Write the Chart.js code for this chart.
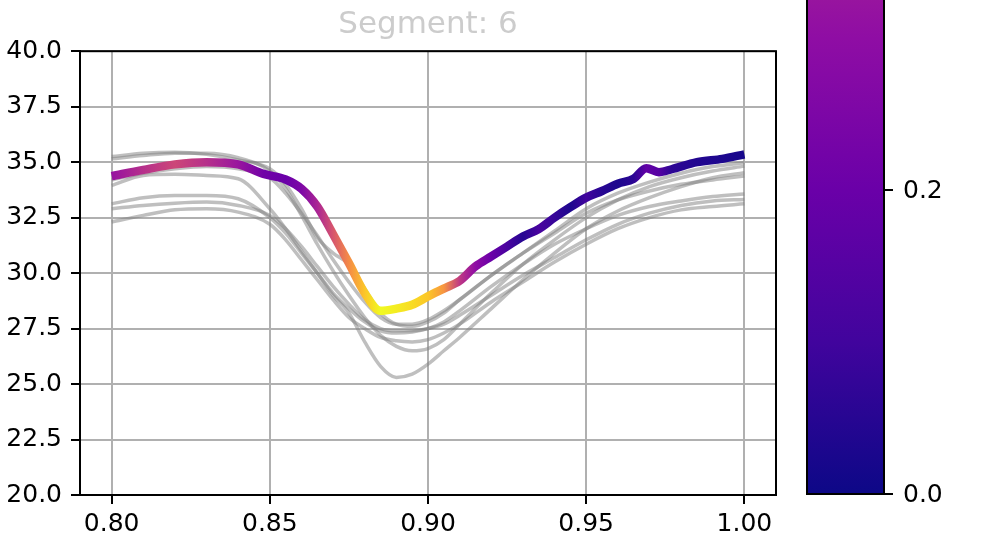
<!DOCTYPE html>
<html>
<head>
<meta charset="utf-8">
<script src="https://cdn.jsdelivr.net/npm/chart.js@4/dist/chart.umd.min.js"></script>
<style>
  html, body { margin: 0; padding: 0; background: #ffffff; }
  #wrap { width: 984px; height: 539px; }
</style>
</head>
<body>
<div id="wrap"><canvas id="c" width="984" height="539"></canvas></div>
<script>
// ---------------- data ----------------
const titleText = 'Segment: 6';

// shared x positions of the grey (other segment) curves
const greyX = [0.80,0.81,0.82,0.83,0.84,0.85,0.855,0.86,0.865,0.87,0.875,0.88,0.885,0.89,0.895,0.90,0.905,0.91,0.92,0.93,0.94,0.95,0.96,0.97,0.98,0.99,1.00];
const grey1 = [35.25,35.4,35.45,35.35,35.1,34.7,34.0,32.9,31.6,30.9,30.4,29.3,28.2,27.7,27.6,27.8,28.2,28.8,29.9,30.9,31.9,32.9,33.6,34.1,34.5,34.8,34.97];
const grey2 = [35.15,35.3,35.4,35.4,35.2,34.6,33.8,32.6,31.3,30.1,29.0,28.0,27.2,26.7,26.5,26.6,27.0,27.7,29.1,30.4,31.5,32.5,33.3,33.9,34.3,34.6,34.82];
const grey3 = [33.95,34.4,34.45,34.4,34.25,32.9,32.0,31.0,30.0,29.0,28.2,26.9,25.8,25.3,25.45,25.9,26.5,27.1,28.4,29.7,30.9,32.0,32.8,33.4,33.9,34.3,34.52];
const grey4 = [33.12,33.4,33.5,33.5,33.35,32.5,31.8,30.9,30.0,29.1,28.4,27.8,27.4,27.3,27.35,27.5,27.8,28.3,29.4,30.4,31.3,32.0,32.6,33.0,33.25,33.45,33.57];
const grey5 = [32.9,33.05,33.15,33.2,33.05,32.6,32.0,31.2,30.3,29.4,28.6,27.9,27.5,27.4,27.4,27.5,27.7,28.1,29.0,29.9,30.7,31.5,32.2,32.7,33.05,33.25,33.32];
const grey6 = [32.3,32.6,32.85,32.9,32.75,32.2,31.5,30.6,29.7,28.8,28.0,27.5,27.1,26.95,26.9,27.0,27.3,27.7,28.7,29.6,30.5,31.3,32.0,32.5,32.85,33.0,33.12];
const grey7 = [34.2,34.5,34.7,34.8,34.7,34.3,33.6,32.7,31.7,30.6,29.6,28.7,28.0,27.7,27.7,27.9,28.3,28.8,29.9,30.9,31.8,32.7,33.3,33.7,34.0,34.2,34.37];
const greySeries = [grey1, grey2, grey3, grey4, grey5, grey6, grey7];

// highlighted segment curve and its colour value (0..1 of the colormap)
const segX = [0.80,0.81,0.82,0.83,0.84,0.848,0.855,0.86,0.865,0.87,0.875,0.88,0.885,0.89,0.895,0.90,0.905,0.91,0.915,0.92,0.925,0.93,0.935,0.94,0.945,0.95,0.955,0.96,0.965,0.969,0.973,0.977,0.985,0.993,1.00];
const segY = [34.37,34.65,34.9,35.0,34.9,34.47,34.22,33.8,33.0,31.75,30.45,29.1,28.3,28.4,28.57,28.95,29.3,29.65,30.3,30.75,31.2,31.65,31.98,32.5,32.97,33.4,33.7,34.03,34.25,34.73,34.55,34.68,35.0,35.15,35.35];
const segC = [0.32,0.42,0.5,0.42,0.33,0.22,0.2,0.25,0.38,0.55,0.72,0.88,1.0,0.97,0.93,0.88,0.75,0.45,0.3,0.2,0.12,0.05,0.12,0.08,0.03,0.1,0.05,0.03,0.06,0.18,0.15,0.06,0.04,0.03,0.02];

const xTicks = [0.80, 0.85, 0.90, 0.95, 1.00];
const yTicks = [20.0, 22.5, 25.0, 27.5, 30.0, 32.5, 35.0, 37.5, 40.0];
const colorbarTicks = [0.0, 0.2];
const colorbarRange = [0.0, 1.0];

// plasma colormap key colours
const plasmaStops = ['#0d0887','#41049d','#6a00a8','#8f0da4','#b12a90','#cc4778','#e16462','#f2844b','#fca636','#fcce25','#f0f921'];

// ---------------- helpers ----------------
function hexToRgb(h) {
  return [parseInt(h.slice(1,3),16), parseInt(h.slice(3,5),16), parseInt(h.slice(5,7),16)];
}
const plasmaRgb = plasmaStops.map(hexToRgb);
function plasma(t) {
  t = Math.max(0, Math.min(1, t));
  const f = t * (plasmaRgb.length - 1);
  const i = Math.min(plasmaRgb.length - 2, Math.floor(f));
  const u = f - i;
  const a = plasmaRgb[i], b = plasmaRgb[i + 1];
  const c = a.map((v, k) => Math.round(v + (b[k] - v) * u));
  return 'rgb(' + c[0] + ',' + c[1] + ',' + c[2] + ')';
}

function segGradient(context) {
  const chart = context.chart;
  const area = chart.chartArea;
  const xs = chart.scales.x;
  if (!area || !xs) return plasma(0.5);
  const p0 = xs.getPixelForValue(segX[0]);
  const p1 = xs.getPixelForValue(segX[segX.length - 1]);
  const g = chart.ctx.createLinearGradient(p0, 0, p1, 0);
  segX.forEach((x, i) => {
    const off = (xs.getPixelForValue(x) - p0) / (p1 - p0);
    g.addColorStop(Math.max(0, Math.min(1, off)), plasma(segC[i]));
  });
  return g;
}

// ---------------- datasets ----------------
const datasets = [];
datasets.push({
  label: 'segment',
  data: segX.map((x, i) => ({ x: x, y: segY[i] })),
  borderColor: segGradient,
  borderWidth: 8.5,
  borderCapStyle: 'butt',
  borderJoinStyle: 'round',
  pointRadius: 0,
  cubicInterpolationMode: 'monotone',
  order: 0
});
greySeries.forEach((s, k) => {
  datasets.push({
    label: 'grey' + (k + 1),
    data: greyX.map((x, i) => ({ x: x, y: s[i] })),
    borderColor: 'rgba(128,128,128,0.5)',
    borderWidth: 3.5,
    borderCapStyle: 'butt',
    borderJoinStyle: 'round',
    pointRadius: 0,
    cubicInterpolationMode: 'monotone',
    order: 1
  });
});

// ---------------- plugins ----------------
const framePlugin = {
  id: 'frame',
  afterDraw(chart) {
    const { ctx, chartArea: a } = chart;
    ctx.save();
    ctx.strokeStyle = '#000';
    ctx.lineWidth = 2;
    ctx.strokeRect(a.left, a.top, a.right - a.left, a.bottom - a.top);
    ctx.restore();
  }
};

const colorbarPlugin = {
  id: 'colorbar',
  afterDraw(chart) {
    const { ctx, chartArea: a } = chart;
    const left = a.right + 31;
    const right = a.right + 108;
    const bottom = a.bottom - 1;
    const pxPerUnit = 1520;
    const vToY = v => bottom - (v - colorbarRange[0]) * pxPerUnit;
    const top = vToY(colorbarRange[1]);
    ctx.save();
    const g = ctx.createLinearGradient(0, bottom, 0, top);
    plasmaStops.forEach((c, i) => g.addColorStop(i / (plasmaStops.length - 1), c));
    ctx.fillStyle = g;
    ctx.fillRect(left, top, right - left, bottom - top);
    ctx.strokeStyle = '#000';
    ctx.lineWidth = 2;
    ctx.strokeRect(left, top, right - left, bottom - top);
    ctx.font = '25px "DejaVu Sans"';
    ctx.fillStyle = '#000';
    ctx.textAlign = 'left';
    ctx.textBaseline = 'middle';
    colorbarTicks.forEach(v => {
      const y = vToY(v);
      ctx.beginPath();
      ctx.moveTo(right, y);
      ctx.lineTo(right + 9, y);
      ctx.stroke();
      ctx.fillText(v.toFixed(1), right + 19, y + 1);
    });
    ctx.restore();
  }
};

// ---------------- chart ----------------
const font = { family: '"DejaVu Sans"', size: 25 };
new Chart(document.getElementById('c'), {
  type: 'line',
  data: { datasets: datasets },
  plugins: [framePlugin, colorbarPlugin],
  options: {
    responsive: false,
    devicePixelRatio: 1,
    animation: false,
    events: [],
    layout: { padding: { left: 0, right: 208, top: 0, bottom: 0 } },
    plugins: {
      legend: { display: false },
      tooltip: { enabled: false },
      title: {
        display: true,
        text: titleText,
        color: '#cccccc',
        fullSize: false,
        font: { family: '"DejaVu Sans"', size: 31, weight: 'normal' },
        padding: { top: 6, bottom: 8 }
      }
    },
    scales: {
      x: {
        type: 'linear',
        min: 0.79,
        max: 1.01,
        afterBuildTicks: s => { s.ticks = xTicks.map(v => ({ value: v })); },
        afterFit: s => { s.height = 44; },
        ticks: { font: font, color: '#000', padding: 5, maxRotation: 0, autoSkip: false,
                 callback: v => Number(v).toFixed(2) },
        grid: { color: '#b0b0b0', lineWidth: 2, tickColor: '#000', tickLength: 9, tickWidth: 2 },
        border: { color: '#000', width: 2 }
      },
      y: {
        type: 'linear',
        min: 20,
        max: 40,
        afterBuildTicks: s => { s.ticks = yTicks.map(v => ({ value: v })); },
        afterFit: s => { s.width = 80; },
        ticks: { font: font, color: '#000', padding: 9, autoSkip: false,
                 callback: v => Number(v).toFixed(1) },
        grid: { color: '#b0b0b0', lineWidth: 2, tickColor: '#000', tickLength: 9, tickWidth: 2 },
        border: { color: '#000', width: 2 }
      }
    }
  }
});
</script>
</body>
</html>
